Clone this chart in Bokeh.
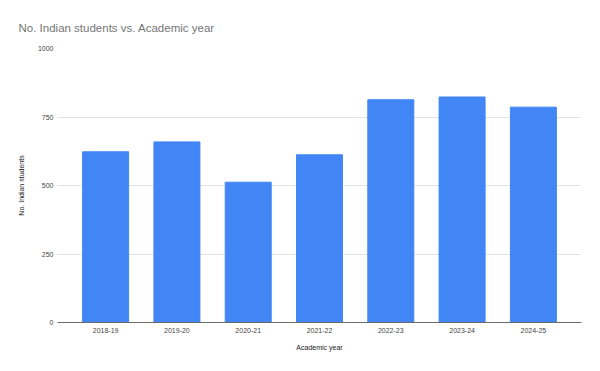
from bokeh.plotting import figure
from bokeh.models import FactorRange, Range1d, FixedTicker
from bokeh.embed import file_html
from bokeh.resources import INLINE

years = ["2018-19", "2019-20", "2020-21", "2021-22", "2022-23", "2023-24", "2024-25"]
students = [623, 659, 512, 612, 813, 823, 786]
y_ticks = [0, 250, 500, 750, 1000]

FONT = "Liberation Sans"

p = figure(
    width=584, height=355,
    title="No. Indian students vs. Academic year",
    x_range=FactorRange(*years, range_padding=0.175, range_padding_units="absolute"),
    y_range=Range1d(0, 1000),
    output_backend="svg", toolbar_location=None,
    min_border_left=57, min_border_right=3, min_border_top=48, min_border_bottom=33,
)
p.outline_line_color = None
p.background_fill_color = "white"

p.title.align = "left"
p.title.offset = -39
p.title.standoff = 30
p.title.text_font = FONT
p.title.text_font_size = "11.5px"
p.title.text_font_style = "normal"
p.title.text_color = "#757575"

p.vbar(x=years, top=students, width=0.645, color="#4285F4")

p.xgrid.grid_line_color = None
p.ygrid.grid_line_color = "#e3e3e3"
p.ygrid.ticker = FixedTicker(ticks=y_ticks)

p.yaxis.ticker = FixedTicker(ticks=y_ticks)
p.yaxis.axis_line_color = None
p.yaxis.major_tick_line_color = None
p.yaxis.minor_tick_line_color = None
p.yaxis.major_tick_out = 0
p.yaxis.major_label_standoff = 4
p.yaxis.major_label_text_font = FONT
p.yaxis.major_label_text_font_size = "7px"
p.yaxis.major_label_text_color = "#444444"
p.yaxis.axis_label = "No. Indian students"
p.yaxis.axis_label_text_font = FONT
p.yaxis.axis_label_text_font_size = "7px"
p.yaxis.axis_label_text_font_style = "normal"
p.yaxis.axis_label_text_color = "#222222"
p.yaxis.axis_label_standoff = 10

p.xaxis.axis_line_color = "#6b6b6b"
p.xaxis.axis_line_width = 1
p.xaxis.major_tick_line_color = None
p.xaxis.minor_tick_line_color = None
p.xaxis.major_tick_out = 0
p.xaxis.major_label_standoff = 5
p.xaxis.major_label_text_font = FONT
p.xaxis.major_label_text_font_size = "7px"
p.xaxis.major_label_text_color = "#444444"
p.xaxis.axis_label = "Academic year"
p.xaxis.axis_label_text_font = FONT
p.xaxis.axis_label_text_font_size = "7px"
p.xaxis.axis_label_text_font_style = "normal"
p.xaxis.axis_label_text_color = "#222222"
p.xaxis.axis_label_standoff = 8

open("out.html", "w").write(file_html(p, INLINE))
